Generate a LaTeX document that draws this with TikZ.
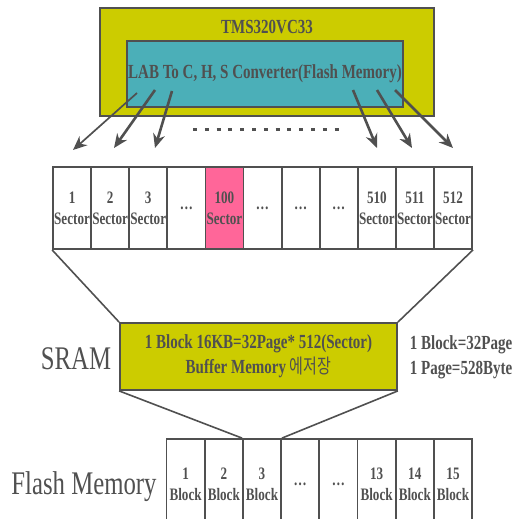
\documentclass[tikz,border=0pt]{standalone}
\usepackage{fontspec}
\setmainfont[FakeStretch=0.75]{Liberation Serif}
\newfontfamily\krfont[FakeStretch=0.75]{Noto Sans CJK KR}
\usetikzlibrary{arrows.meta}
\definecolor{chipyellow}{HTML}{CCCC00}
\definecolor{convteal}{HTML}{4BAFB8}
\definecolor{hotpink}{HTML}{FF6699}
\definecolor{darkgray}{HTML}{505050}
\begin{document}
\begin{tikzpicture}[x=1pt, y=-1pt, >={Stealth[length=14pt,width=12pt]},
        cell/.style={draw=darkgray, line width=1.8pt, minimum width=38.1pt, minimum height=82pt,
            inner sep=0pt, align=center, text=darkgray, font=\fontsize{17.5}{21}\selectfont\bfseries},
        block/.style={cell, minimum height=90pt},
        box/.style={draw=darkgray, line width=1.8pt, inner sep=0pt, align=center, text=darkgray,
            font=\fontsize{20}{25}\selectfont\bfseries},
        label/.style={text=darkgray, inner sep=0pt, font=\fontsize{33}{36}\selectfont},
        link/.style={->, line width=2.6pt, darkgray}]
        \useasboundingbox (0,0) rectangle (530,519);
        \clip (0,0) rectangle (530,519);

        % DSP with the converter
        \node[box, fill=chipyellow, minimum width=334pt, minimum height=108pt] (chip) at (267,62) {};
        \node[box, draw=none] (title) at (267,27) {TMS320VC33};
        \node[box, fill=convteal, minimum width=276pt, minimum height=66pt] (conv) at (265,74)
            {LAB To C, H, S Converter(Flash Memory)};

        % Sector row
        \foreach \i/\lab/\col in {1/{1\\Sector}/white, 2/{2\\Sector}/white, 3/{3\\Sector}/white,
                4/{…}/white, 5/{100\\Sector}/hotpink, 6/{…}/white, 7/{…}/white, 8/{…}/white,
                9/{510\\Sector}/white, 10/{511\\Sector}/white, 11/{512\\Sector}/white}
            \node[cell, fill=\col] (s\i) at ({53+38.1*(\i-0.5)},208) {\lab};

        % Converter to sectors
        \coordinate (a1) at (137,93);  \coordinate (e1) at (73,150);
        \coordinate (a2) at (155,90);  \coordinate (e2) at (114,148);
        \coordinate (a3) at (172,91);  \coordinate (e3) at (155,148);
        \coordinate (a4) at (353,90);  \coordinate (e4) at (377,148);
        \coordinate (a5) at (377,90);  \coordinate (e5) at (412,148);
        \coordinate (a6) at (395,90);  \coordinate (e6) at (453,148);
        \draw[link, line width=1.7pt] (a1) -- (e1);
        \foreach \k in {2,...,6}
            \draw[link] (a\k) -- (e\k);
        \draw[darkgray, line width=3pt, dash pattern=on 4pt off 7.8pt] (193,129) -- (339,129);

        % SRAM buffer
        \node[box, fill=chipyellow, minimum width=277pt, minimum height=67pt] (sram) at (258.5,356.5)
            {1 Block 16KB=32Page* 512(Sector)\\Buffer Memory {\mdseries\krfont 에저장}};
        \node[label] (sramlab) at (76,359) {SRAM};
        \node[box, draw=none, anchor=west, align=left] (note) at (409,357)
            {1 Block=32Page\\1 Page=528Byte};
        \draw[darkgray, line width=1.6pt] (s1.south west) -- (sram.north west);
        \draw[darkgray, line width=1.6pt] (s11.south east) -- (sram.north east);

        % Flash blocks
        \foreach \i/\lab in {1/{1\\Block}, 2/{2\\Block}, 3/{3\\Block}, 4/{…}, 5/{…},
                6/{13\\Block}, 7/{14\\Block}, 8/{15\\Block}}
            \node[block] (b\i) at ({166.5+38.2*(\i-0.5)},484) {\lab};
        \node[label] (flashlab) at (84,487) {Flash Memory};
        \draw[darkgray, line width=1.6pt] (sram.south west) -- (b3.north west);
        \draw[darkgray, line width=1.6pt] (sram.south east) -- (b3.north east);
\end{tikzpicture}
\end{document}
